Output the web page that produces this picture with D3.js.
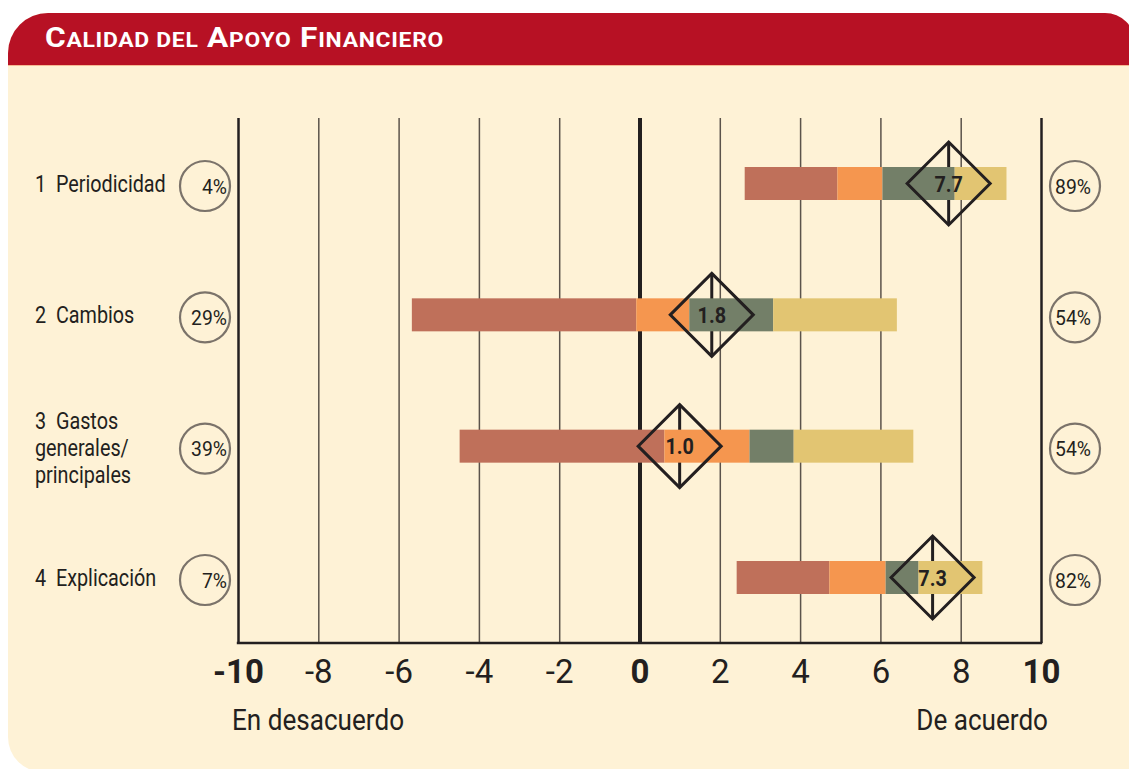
<!DOCTYPE html>
<html>
<head>
<meta charset="utf-8">
<script src="https://cdn.jsdelivr.net/npm/d3@7"></script>
<style>
  body { margin: 0; background: #ffffff; }
  svg { display: block; }
  text { font-family: "Roboto", "DejaVu Sans", sans-serif; fill: #231f20; white-space: pre; }
</style>
</head>
<body>
<div id="chart"></div>
<script>
// ---- data ----
var rowLabels = [["1  Periodicidad"], ["2  Cambios"], ["3  Gastos", "generales/", "principales"], ["4  Explicación"]];
var barStart   = [2.62, -5.67, -4.48, 2.42];   // left edge of the red part
var redEnd     = [4.93, -0.08, 0.62, 4.73];
var orangeEnd  = [6.05, 1.24, 2.74, 6.13];
var greenEnd   = [7.85, 3.33, 3.84, 6.95];
var barEnd     = [9.14, 6.41, 6.82, 8.54];     // right edge of the yellow part
var means      = [7.7, 1.8, 1.0, 7.3];
var disagree   = ["4%", "29%", "39%", "7%"];
var agree      = ["89%", "54%", "54%", "82%"];
var tickValues = [-10, -8, -6, -4, -2, 0, 2, 4, 6, 8, 10];
var boldTicks  = [-10, 0, 10];
var title      = "Calidad del Apoyo Financiero";

var segColors = ["#bf705a", "#f5964f", "#737f68", "#e2c572"];

var width = 1129, height = 769;

// squeeze Roboto a little so it reads like the condensed face of the original
function narrow(sel, factor) {
    sel.each(function() {
        var w = this.getComputedTextLength();
        d3.select(this).attr("textLength", w * factor).attr("lengthAdjust", "spacingAndGlyphs");
    });
}

var svg = d3.select("#chart").append("svg")
    .attr("width", width)
    .attr("height", height);

// card background: cream panel with a red header
svg.append("path")
    .attr("d", "M8,53 A40,40 0 0 1 48,13 H1105 A30,30 0 0 1 1135,43 V772 H43 A35,35 0 0 1 8,737 Z")
    .attr("fill", "#fef2d6");

svg.append("path")
    .attr("d", "M8,65 V53 A40,40 0 0 1 48,13 H1105 A30,30 0 0 1 1135,43 V65 Z")
    .attr("fill", "#b71124");
svg.append("line")
    .attr("x1", 8).attr("x2", 1129)
    .attr("y1", 65.5).attr("y2", 65.5)
    .attr("stroke", "#f6b993").attr("stroke-width", 1);

// title in small caps
var t = svg.append("text")
    .attr("x", 45)
    .attr("y", 47)
    .attr("font-weight", "bold")
    .style("fill", "#ffffff")
    .attr("font-family", "'Open Sans', 'DejaVu Sans', sans-serif")
    .attr("letter-spacing", 0.6);
title.split(" ").forEach(function(w, i) {
    var first = w[0];
    var big = first === first.toUpperCase();
    if (big) {
        t.append("tspan").attr("font-size", 27).text((i ? " " : "") + first);
        t.append("tspan").attr("font-size", 19.5).text(w.slice(1).toUpperCase());
    } else {
        t.append("tspan").attr("font-size", 19.5).text((i ? " " : "") + w.toUpperCase());
    }
});
t.attr("textLength", 399).attr("lengthAdjust", "spacingAndGlyphs");

// scales
var x = d3.scaleLinear().domain([-10, 10]).range([238, 1041]);
var y = d3.scalePoint().domain(d3.range(rowLabels.length)).range([183.5, 577.5]);

var gridTop = 118, gridBottom = 643;

// grid lines through an axis
var grid = svg.append("g")
    .attr("transform", "translate(0," + gridBottom + ")")
    .call(d3.axisBottom(x).tickValues(tickValues).tickSize(-(gridBottom - gridTop)).tickFormat(""));
grid.select(".domain").remove();
grid.selectAll(".tick line")
    .attr("stroke", function(d) { return (d === 0 || Math.abs(d) === 10) ? "#231f20" : "#5b534b"; })
    .attr("stroke-width", function(d) { return d === 0 ? 4 : (Math.abs(d) === 10 ? 2.5 : 1.5); });

svg.append("line")
    .attr("x1", x(-10) - 1.2).attr("x2", x(10) + 1.2)
    .attr("y1", gridBottom).attr("y2", gridBottom)
    .attr("stroke", "#231f20").attr("stroke-width", 2.5);

// tick labels
var labels = svg.append("g")
    .attr("transform", "translate(0," + (gridBottom + 40) + ")")
    .call(d3.axisBottom(x).tickValues(tickValues).tickSize(0).tickPadding(0)
        .tickFormat(function(d) { return d < 0 ? "-" + Math.abs(d) : String(d); }));
labels.select(".domain").remove();
labels.selectAll(".tick text")
    .attr("y", 0).attr("dy", 0)
    .attr("font-size", 33)
    .attr("font-family", "Roboto, sans-serif")
    .attr("font-weight", function(d) { return boldTicks.indexOf(d) >= 0 ? "bold" : "normal"; })
    .style("fill", "#231f20");

svg.append("text").attr("x", 232).attr("y", 730).attr("font-size", 30)
    .text("En desacuerdo")
    .call(narrow, 0.87);
svg.append("text").attr("x", 1048).attr("y", 730).attr("font-size", 30)
    .attr("text-anchor", "end").text("De acuerdo")
    .call(narrow, 0.87);

// rows
var rows = svg.append("g").selectAll("g")
    .data(d3.range(rowLabels.length))
    .enter().append("g")
    .attr("transform", function(i) { return "translate(0," + y(i) + ")"; });

var barH = 33, dh = 41.5;

// vertical line of the diamond sits under the bar
rows.append("line")
    .attr("x1", function(i) { return x(means[i]); })
    .attr("x2", function(i) { return x(means[i]); })
    .attr("y1", -dh).attr("y2", dh)
    .attr("stroke", "#231f20").attr("stroke-width", 3);

rows.each(function(i) {
    var edges = [barStart[i], redEnd[i], orangeEnd[i], greenEnd[i], barEnd[i]];
    var g = d3.select(this);
    for (var k = 0; k < 4; k++) {
        g.append("rect")
            .attr("x", x(edges[k]))
            .attr("width", x(edges[k + 1]) - x(edges[k]))
            .attr("y", -barH / 2)
            .attr("height", barH)
            .attr("fill", segColors[k]);
    }
});

rows.append("path")
    .attr("d", function(i) {
        var cx = x(means[i]);
        return "M" + cx + "," + (-dh) + " L" + (cx + dh) + ",0 L" + cx + "," + dh + " L" + (cx - dh) + ",0 Z";
    })
    .attr("fill", "none")
    .attr("stroke", "#231f20")
    .attr("stroke-width", 3)
    .attr("stroke-linejoin", "miter");

rows.append("text")
    .attr("x", function(i) { return x(means[i]); })
    .attr("y", 8)
    .attr("text-anchor", "middle")
    .attr("font-size", 22)
    .attr("font-weight", "bold")
    .text(function(i) { return means[i].toFixed(1); })
    .call(narrow, 0.9);

// row labels
rows.append("text")
    .attr("y", function(i) { return rowLabels[i].length > 1 ? -17 : 8.5; })
    .attr("font-size", 23)
    .each(function(i) {
        d3.select(this).selectAll("tspan")
            .data(rowLabels[i])
            .enter().append("tspan")
            .attr("x", 35)
            .attr("dy", function(d, j) { return j ? 27 : 0; })
            .text(function(d) { return d; })
            .call(narrow, 0.86);
    });

// percentage circles
rows.append("circle")
    .attr("cx", 205).attr("cy", 2.5).attr("r", 25)
    .attr("fill", "none").attr("stroke", "#7b736a").attr("stroke-width", 2.2);
rows.append("text")
    .attr("x", 227).attr("y", 10)
    .attr("text-anchor", "end")
    .attr("font-size", 21)
    .text(function(i) { return disagree[i]; })
    .call(narrow, 0.92);

rows.append("circle")
    .attr("cx", 1075).attr("cy", 2.5).attr("r", 25)
    .attr("fill", "none").attr("stroke", "#7b736a").attr("stroke-width", 2.2);
rows.append("text")
    .attr("x", 1073).attr("y", 10)
    .attr("text-anchor", "middle")
    .attr("font-size", 21)
    .text(function(i) { return agree[i]; })
    .call(narrow, 0.92);
</script>
</body>
</html>
